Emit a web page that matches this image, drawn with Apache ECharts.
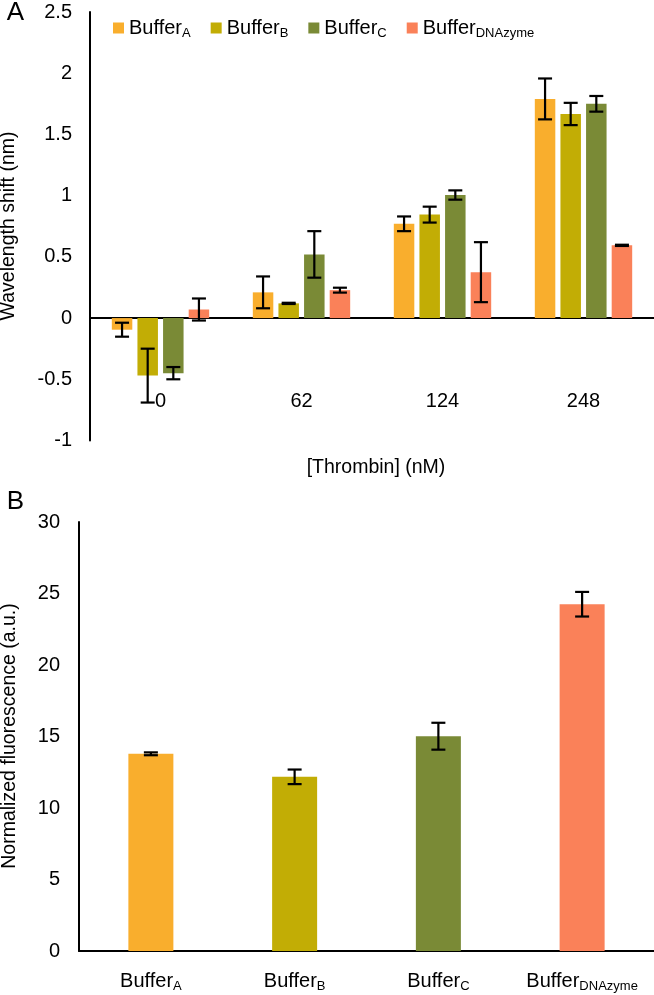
<!DOCTYPE html>
<html>
<head>
<meta charset="utf-8">
<script src="https://cdn.jsdelivr.net/npm/echarts@6/dist/echarts.min.js"></script>
<style>
html,body{margin:0;padding:0;background:#fff;}
#chart{width:654px;height:995px;}
</style>
</head>
<body>
<div id="chart"></div>
<script>
// ---------- Data ----------
const categoriesA = ['0', '62', '124', '248'];
const seriesNames = ['BufferA', 'BufferB', 'BufferC', 'BufferDNAzyme'];
const seriesSubs = ['A', 'B', 'C', 'DNAzyme'];

const shiftBufferA = [-0.095, 0.21, 0.77, 1.79];
const shiftBufferB = [-0.47, 0.12, 0.845, 1.667];
const shiftBufferC = [-0.45, 0.52, 1.005, 1.75];
const shiftBufferD = [0.07, 0.228, 0.375, 0.594];

const errBufferA = [0.057, 0.13, 0.06, 0.167];
const errBufferB = [0.22, 0.005, 0.065, 0.091];
const errBufferC = [0.05, 0.19, 0.038, 0.064];
const errBufferD = [0.09, 0.02, 0.245, 0.005];

const categoriesB = ['BufferA', 'BufferB', 'BufferC', 'BufferDNAzyme'];
const fluorValues = [13.79, 12.18, 15.02, 24.25];
const fluorErrors = [0.1, 0.51, 0.94, 0.86];

// ---------- Styles ----------
const colors = ['#F9AE2D', '#C2AD05', '#7A8A36', '#FA8159'];
const FONT = 'Liberation Sans, Arial, sans-serif';
const barWA = 20.5, gapA = 0.25;
const barWB = 45;

const shiftValues = [shiftBufferA, shiftBufferB, shiftBufferC, shiftBufferD];
const shiftErrors = [errBufferA, errBufferB, errBufferC, errBufferD];

function errRender(offsetPx, capHalf) {
  return function (params, api) {
    const x = api.value(0), v = api.value(1), e = api.value(2);
    const top = api.coord([x, v + e]);
    const bot = api.coord([x, v - e]);
    const cx = top[0] + offsetPx;
    const st = { stroke: '#000', lineWidth: 2.2 };
    return {
      type: 'group',
      children: [
        { type: 'line', shape: { x1: cx, y1: top[1], x2: cx, y2: bot[1] }, style: st },
        { type: 'line', shape: { x1: cx - capHalf, y1: top[1], x2: cx + capHalf, y2: top[1] }, style: st },
        { type: 'line', shape: { x1: cx - capHalf, y1: bot[1], x2: cx + capHalf, y2: bot[1] }, style: st }
      ]
    };
  };
}

const pitchA = barWA * (1 + gapA);
const series = [];
seriesNames.forEach((n, i) => {
  series.push({
    name: n, type: 'bar', xAxisIndex: 0, yAxisIndex: 0,
    data: shiftValues[i], barWidth: barWA, barGap: (gapA * 100) + '%',
    itemStyle: { color: colors[i] }
  });
});
seriesNames.forEach((n, i) => {
  const off = (i - 1.5) * pitchA;
  series.push({
    type: 'custom', xAxisIndex: 0, yAxisIndex: 0, z: 10,
    renderItem: errRender(off, 7),
    data: shiftValues[i].map((v, k) => [k, v, shiftErrors[i][k]])
  });
});
series.push({
  type: 'bar', xAxisIndex: 1, yAxisIndex: 1, barWidth: barWB,
  data: fluorValues.map((v, i) => ({ value: v, itemStyle: { color: colors[i] } }))
});
series.push({
  type: 'custom', xAxisIndex: 1, yAxisIndex: 1, z: 10,
  renderItem: errRender(0, 7),
  data: fluorValues.map((v, k) => [k, v, fluorErrors[k]])
});

const rich = {
  m: { fontSize: 20, fontFamily: FONT, color: '#000', lineHeight: 24 },
  s: { fontSize: 13, fontFamily: FONT, color: '#000', lineHeight: 10, verticalAlign: 'bottom' }
};

const option = {
  backgroundColor: '#fff',
  animation: false,
  textStyle: { fontFamily: FONT },
  legend: {
    data: seriesNames,
    left: 108, top: 13,
    icon: 'rect', itemWidth: 11, itemHeight: 11, itemGap: 20,
    formatter: (name) => '{m|Buffer}{s|' + seriesSubs[seriesNames.indexOf(name)] + '}',
    textStyle: { rich: rich }
  },
  grid: [
    { left: 90, right: 0, top: 12, height: 428.5 },
    { left: 79, right: 0, top: 522, height: 429 }
  ],
  xAxis: [
    {
      type: 'category', gridIndex: 0, data: categoriesA,
      axisLine: { onZero: true, lineStyle: { color: '#000', width: 2 } },
      axisTick: { show: false },
      axisLabel: { fontSize: 20, color: '#000', margin: -49, fontFamily: FONT }
    },
    {
      type: 'category', gridIndex: 1, data: categoriesB,
      axisLine: { lineStyle: { color: '#000', width: 2 } },
      axisTick: { show: false },
      axisLabel: {
        margin: 18, interval: 0, hideOverlap: false,
        formatter: (v) => '{m|Buffer}{s|' + v.replace('Buffer', '') + '}',
        rich: rich
      }
    }
  ],
  yAxis: [
    {
      type: 'value', gridIndex: 0, min: -1, max: 2.5, interval: 0.5,
      axisLine: { show: true, lineStyle: { color: '#000', width: 2 } },
      axisTick: { show: false }, splitLine: { show: false },
      axisLabel: { fontSize: 20, color: '#000', margin: 18, fontFamily: FONT }
    },
    {
      type: 'value', gridIndex: 1, min: 0, max: 30, interval: 5,
      axisLine: { show: true, lineStyle: { color: '#000', width: 2 } },
      axisTick: { show: false }, splitLine: { show: false },
      axisLabel: { fontSize: 20, color: '#000', margin: 19, fontFamily: FONT }
    }
  ],
  graphic: [
    { type: 'text', x: 15.5, y: 12.5, style: { text: 'A', font: '26px ' + FONT, fill: '#000', textAlign: 'center', textVerticalAlign: 'middle' } },
    { type: 'text', x: 15.5, y: 502, style: { text: 'B', font: '26px ' + FONT, fill: '#000', textAlign: 'center', textVerticalAlign: 'middle' } },
    { type: 'text', x: 9, y: 226, rotation: Math.PI / 2, style: { text: 'Wavelength shift (nm)', font: '19.5px ' + FONT, fill: '#000', textAlign: 'center', textVerticalAlign: 'middle' } },
    { type: 'text', x: 376, y: 468, style: { text: '[Thrombin] (nM)', font: '19.5px ' + FONT, fill: '#000', textAlign: 'center', textVerticalAlign: 'middle' } },
    { type: 'text', x: 10, y: 736, rotation: Math.PI / 2, style: { text: 'Normalized fluorescence (a.u.)', font: '19.5px ' + FONT, fill: '#000', textAlign: 'center', textVerticalAlign: 'middle' } }
  ],
  series: series
};

const chart = echarts.init(document.getElementById('chart'), null, { renderer: 'canvas' });
chart.setOption(option);
</script>
</body>
</html>
